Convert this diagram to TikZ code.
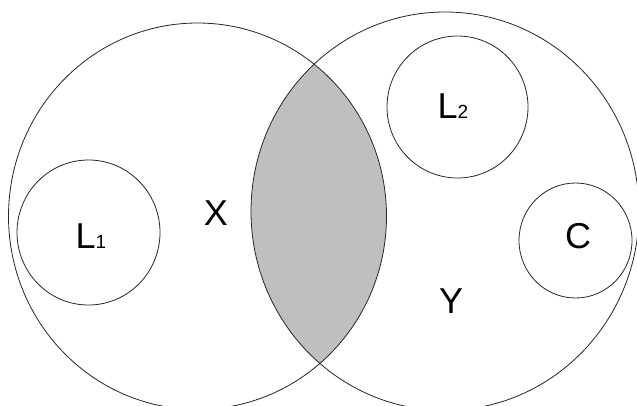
\documentclass[tikz,border=0pt]{standalone}
\usepackage{fontspec}
\setmainfont{Liberation Sans}
\begin{document}
\begin{tikzpicture}[x=1pt,y=-1pt,
  ring/.style={draw=black!85,line width=0.8pt},
  lbl/.style={anchor=base,inner sep=0pt,font=\fontsize{36}{36}\selectfont},
  lens/.style={fill=black!25}]
\newcommand{\sub}[1]{{\fontsize{19}{19}\selectfont #1}}
\useasboundingbox (0,0) rectangle (637,405);
\fill[white] (0,0) rectangle (637,405);
\begin{scope}
  \clip (0,0) rectangle (637,405);
  % lens (intersection)
  \begin{scope}
    \clip (197.5,216.2) ellipse[x radius=189pt,y radius=193.2pt];
    \fill[lens] (445,211.2) ellipse[x radius=194pt,y radius=199.2pt];
  \end{scope}
  % big circles
  \draw[ring] (197.5,216.2) ellipse[x radius=189pt,y radius=193.2pt];
  \draw[ring] (445,211.2) ellipse[x radius=194pt,y radius=199.2pt];
\end{scope}
% small circles
\draw[ring] (88.5,232.5) ellipse[x radius=71.5pt,y radius=72.5pt];
\draw[ring] (457.5,107) ellipse[x radius=70.5pt,y radius=71pt];
\draw[ring] (575.5,240.5) ellipse[x radius=56.5pt,y radius=57.5pt];
% labels
\node[lbl] (l1) at (91,248) {L\sub{1}};
\node[lbl] (x) at (216,225) {X};
\node[lbl] (l2) at (453,118) {L\sub{2}};
\node[lbl] (c) at (578,248) {C};
\node[lbl] (y) at (451,313) {Y};
\end{tikzpicture}
\end{document}
